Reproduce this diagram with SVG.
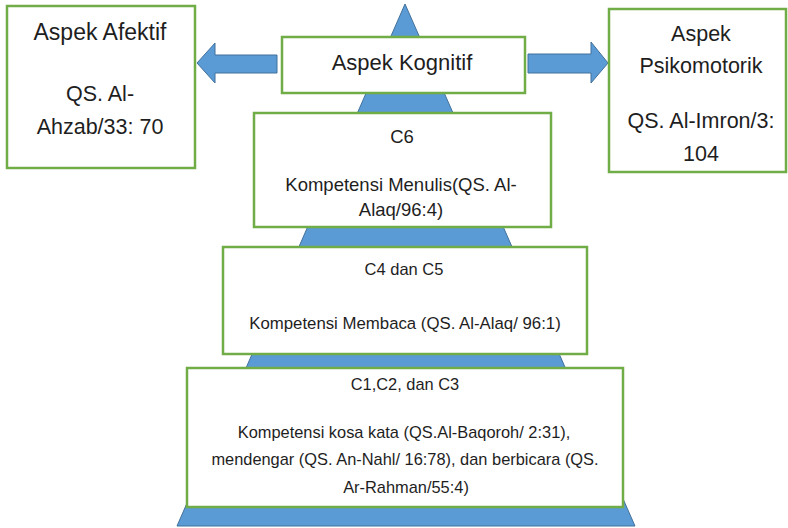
<svg xmlns="http://www.w3.org/2000/svg" width="788" height="528" viewBox="0 0 788 528">
  <style>
    .box { fill: #ffffff; stroke: #70AD47; stroke-width: 2.5; }
    .blue { fill: #5B9BD5; stroke: #41719C; stroke-width: 1; }
    text { font-family: "Liberation Sans", Arial, sans-serif; fill: #1e1e1e; text-anchor: middle; }
    .big { font-size: 21.5px; }
    .mid { font-size: 18.5px; }
    .small { font-size: 16.4px; }
  </style>
  <rect width="788" height="528" fill="#ffffff"/>
  <g id="pyramid">
    <polygon class="blue" points="405,4 177,526 635,526"/>
  </g>
  <g id="connectors">
    <polygon class="blue" points="277,55 215,55 215,43 197,63 215,83 215,73 277,73"/>
    <polygon class="blue" points="528,54 591,54 591,42 608,63 591,83 591,73 528,73"/>
  </g>
  <g id="afektif">
    <rect class="box" x="7" y="6" width="188" height="162"/>
    <text class="big" x="100" y="40" style="font-size:23px">Aspek Afektif</text>
    <text class="big" x="100" y="101">QS. Al-</text>
    <text class="big" x="100" y="134">Ahzab/33: 70</text>
  </g>
  <g id="kognitif">
    <rect class="box" x="282" y="37" width="243" height="56"/>
    <text class="big" x="402" y="70" style="font-size:22px">Aspek Kognitif</text>
  </g>
  <g id="psikomotorik">
    <rect class="box" x="609" y="9" width="177" height="163"/>
    <text class="big" x="701" y="41">Aspek</text>
    <text class="big" x="701" y="73">Psikomotorik</text>
    <text class="big" x="701" y="128">QS. Al-Imron/3:</text>
    <text class="big" x="701" y="161">104</text>
  </g>
  <g id="c6">
    <rect class="box" x="254" y="113" width="297" height="114"/>
    <text class="mid" x="402" y="143">C6</text>
    <text class="mid" x="401" y="191">Kompetensi Menulis(QS. Al-</text>
    <text class="mid" x="401" y="216">Alaq/96:4)</text>
  </g>
  <g id="c4c5">
    <rect class="box" x="223" y="247" width="364" height="107"/>
    <text class="small" x="404" y="275" style="font-size:16.5px">C4 dan C5</text>
    <text class="small" x="405" y="329" style="font-size:16.8px">Kompetensi Membaca (QS. Al-Alaq/ 96:1)</text>
  </g>
  <g id="c1c2c3">
    <rect class="box" x="187" y="368" width="436" height="139"/>
    <text class="small" x="405" y="390">C1,C2, dan C3</text>
    <text class="small" x="404" y="438">Kompetensi kosa kata (QS.Al-Baqoroh/ 2:31),</text>
    <text class="small" x="405" y="465">mendengar (QS. An-Nahl/ 16:78), dan berbicara (QS.</text>
    <text class="small" x="406" y="493">Ar-Rahman/55:4)</text>
  </g>
</svg>
